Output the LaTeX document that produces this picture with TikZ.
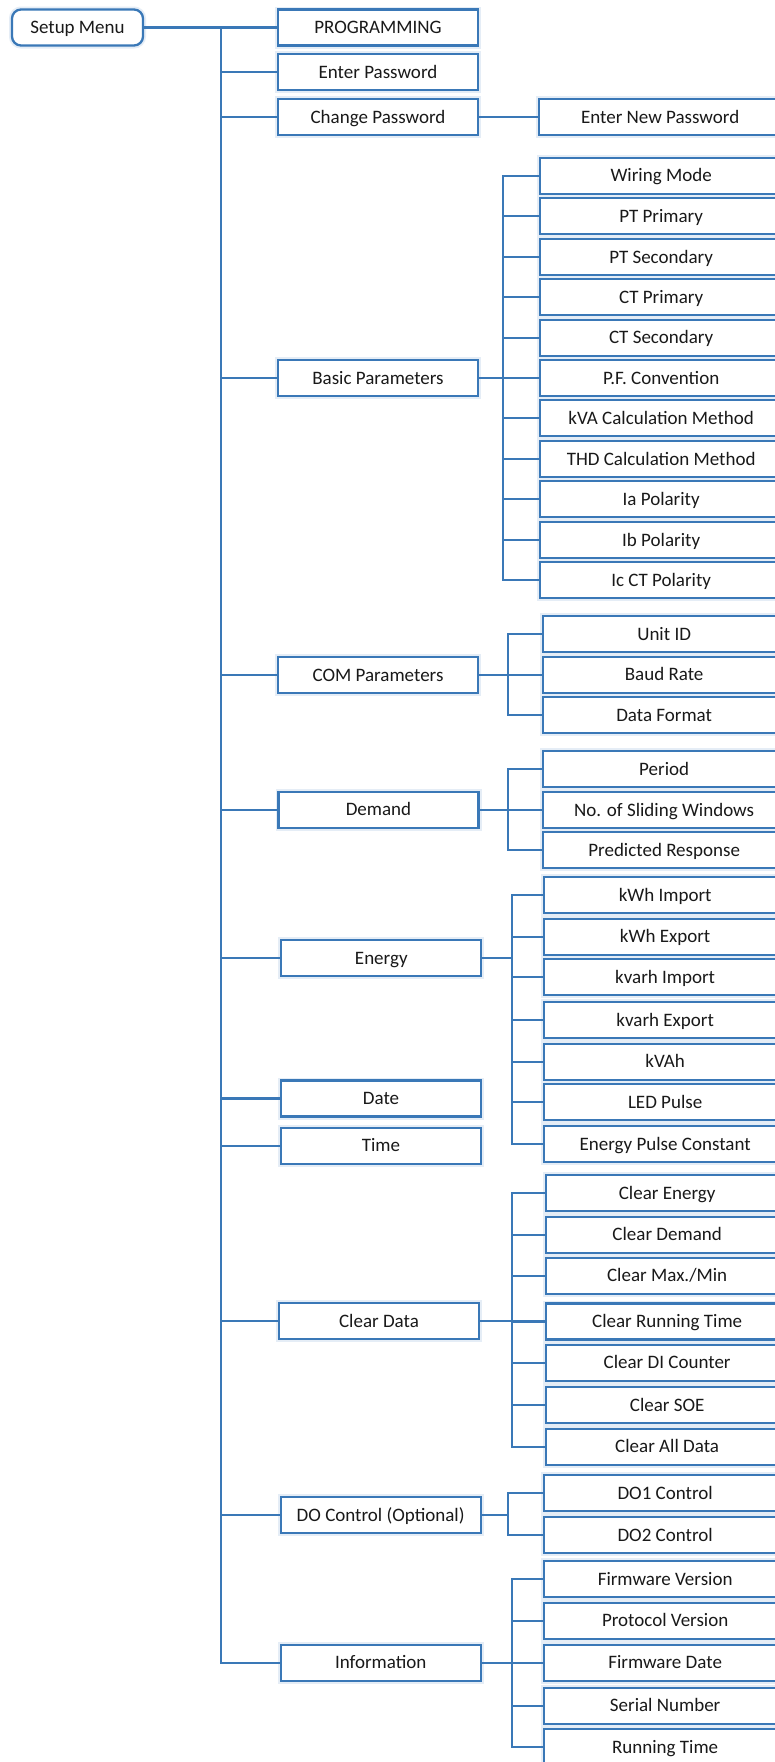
\documentclass[tikz,border=0pt]{standalone}
\usepackage{fontspec}
\setmainfont{Carlito}
\definecolor{lineblue}{RGB}{58,120,183}
\definecolor{txt}{RGB}{25,25,25}
\begin{document}
\begin{tikzpicture}[x=1pt,y=-1pt,
  box/.style={draw=lineblue,line width=2.3pt,fill=white,inner sep=0pt,
    preaction={draw=lineblue!13,line width=6pt},
    minimum height=36pt,text height=16pt,text depth=3.8pt,align=center,
    font=\fontsize{19}{22}\selectfont,text=txt},
  rootbox/.style={box,minimum width=131pt,rounded corners=9pt},
  mid/.style={box,minimum width=200pt},
  leaf/.style={box,minimum width=242pt,anchor=west},
  conn/.style={draw=lineblue,line width=2.2pt}]
\useasboundingbox (0,0) rectangle (775,1762);
\clip (0,0) rectangle (775,1762);
\fill[white] (0,0) rectangle (775,1762);

% trunk coordinates
\coordinate (T) at (221,0);
\coordinate (sB) at (503,0);
\coordinate (sC) at (507.7,0);
\coordinate (sD) at (508,0);
\coordinate (sE) at (512,0);
\coordinate (sK) at (512.3,0);
\coordinate (sO) at (508.3,0);
\coordinate (sI) at (511.7,0);

% root and level-1
\node[rootbox] (setup) at (77.5,27.5) {Setup Menu};
\node[mid] (prog) at (378,27.5) {PROGRAMMING};
\node[mid] (epw) at (378,72) {Enter Password};
\node[mid] (chg) at (378,117.3) {Change Password};
\node[mid] (bp) at (378,378.3) {Basic Parameters};
\node[mid] (com) at (378,675) {COM Parameters};
\node[mid] (dem) at (378.5,809.7) {Demand};
\node[mid] (ene) at (381.3,958.3) {Energy};
\node[mid] (date) at (381,1098.5) {Date};
\node[mid] (time) at (381,1145.7) {Time};
\node[mid] (clr) at (379,1321) {Clear Data};
\node[mid] (doc) at (380.7,1515) {DO Control (Optional)};
\node[mid] (inf) at (380.7,1662.7) {Information};

% leaves
\node[leaf] (enp) at (538,117.3) {Enter New Password};

\node[leaf] (b1) at (539,175.7) {Wiring Mode};
\node[leaf] (b2) at (539,216.3) {PT Primary};
\node[leaf] (b3) at (539,257) {PT Secondary};
\node[leaf] (b4) at (539,297.3) {CT Primary};
\node[leaf] (b5) at (539,337.7) {CT Secondary};
\node[leaf] (b6) at (539,378.3) {P.F. Convention};
\node[leaf] (b7) at (539,418.3) {kVA Calculation Method};
\node[leaf] (b8) at (539,459) {THD Calculation Method};
\node[leaf] (b9) at (539,499.3) {Ia Polarity};
\node[leaf] (b10) at (539,540) {Ib Polarity};
\node[leaf] (b11) at (539,580.3) {Ic CT Polarity};

\node[leaf] (c1) at (542,634.3) {Unit ID};
\node[leaf] (c2) at (542,674.7) {Baud Rate};
\node[leaf] (c3) at (542,715.3) {Data Format};

\node[leaf] (d1) at (542,769.3) {Period};
\node[leaf] (d2) at (542,810) {No. of Sliding Windows};
\node[leaf] (d3) at (542,850) {Predicted Response};

\node[leaf] (e1) at (543,895) {kWh Import};
\node[leaf] (e2) at (543,936.7) {kWh Export};
\node[leaf] (e3) at (543,977.3) {kvarh Import};
\node[leaf] (e4) at (543,1020) {kvarh Export};
\node[leaf] (e5) at (543,1061.7) {kVAh};
\node[leaf] (e6) at (543,1102.3) {LED Pulse};
\node[leaf] (e7) at (543,1144.3) {Energy Pulse Constant};

\node[leaf] (k1) at (545,1193.3) {Clear Energy};
\node[leaf] (k2) at (545,1234.7) {Clear Demand};
\node[leaf] (k3) at (545,1275.7) {Clear Max./Min};
\node[leaf] (k4) at (545,1321.5) {Clear Running Time};
\node[leaf] (k5) at (545,1362.7) {Clear DI Counter};
\node[leaf] (k6) at (545,1405) {Clear SOE};
\node[leaf] (k7) at (545,1446.7) {Clear All Data};

\node[leaf] (o1) at (543,1493.3) {DO1 Control};
\node[leaf] (o2) at (543,1535) {DO2 Control};

\node[leaf] (i1) at (543,1579.3) {Firmware Version};
\node[leaf] (i2) at (543,1620.7) {Protocol Version};
\node[leaf] (i3) at (543,1662.7) {Firmware Date};
\node[leaf] (i4) at (543,1705.7) {Serial Number};
\node[leaf] (i5) at (543,1747.3) {Running Time};

% main trunk
\draw[conn] (setup.east) -- (prog.west);
\foreach \n in {epw,chg,bp,com,dem,ene,date,time,clr,doc,inf}
  \draw[conn] (setup.east -| T) |- (\n.west);
\draw[conn] (chg.east) -- (enp.west);

% sub trunks
\draw[conn] (bp.east) -- (bp.east -| sB);
\foreach \n in {b1,b2,b3,b4,b5,b6,b7,b8,b9,b10,b11}
  \draw[conn] (bp.east -| sB) |- (\n.west);
\draw[conn] (com.east) -- (com.east -| sC);
\foreach \n in {c1,c2,c3}
  \draw[conn] (com.east -| sC) |- (\n.west);
\draw[conn] (dem.east) -- (dem.east -| sD);
\foreach \n in {d1,d2,d3}
  \draw[conn] (dem.east -| sD) |- (\n.west);
\draw[conn] (ene.east) -- (ene.east -| sE);
\foreach \n in {e1,e2,e3,e4,e5,e6,e7}
  \draw[conn] (ene.east -| sE) |- (\n.west);
\draw[conn] (clr.east) -- (clr.east -| sK);
\foreach \n in {k1,k2,k3,k4,k5,k6,k7}
  \draw[conn] (clr.east -| sK) |- (\n.west);
\draw[conn] (doc.east) -- (doc.east -| sO);
\foreach \n in {o1,o2}
  \draw[conn] (doc.east -| sO) |- (\n.west);
\draw[conn] (inf.east) -- (inf.east -| sI);
\foreach \n in {i1,i2,i3,i4,i5}
  \draw[conn] (inf.east -| sI) |- (\n.west);
\end{tikzpicture}
\end{document}
